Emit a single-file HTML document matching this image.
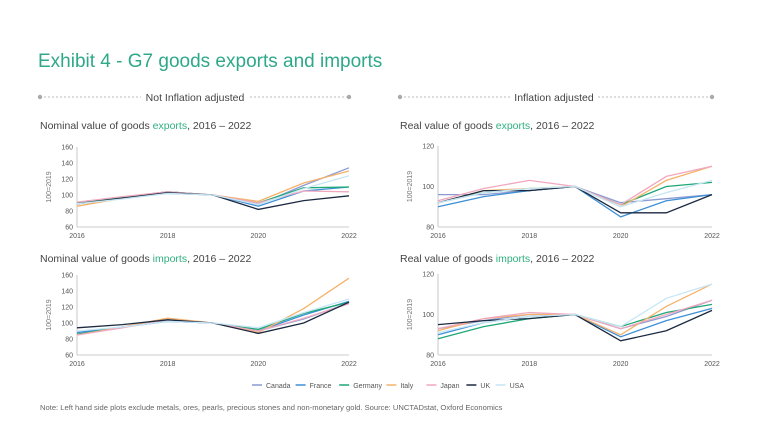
<!DOCTYPE html>
<html><head><meta charset="utf-8">
<style>
body{margin:0;width:768px;height:432px;background:#fff;overflow:hidden;font-family:"Liberation Sans",sans-serif}
svg{display:block}
</style></head><body>
<svg id="c" width="768" height="432">
<text x="38" y="67" font-size="19" fill="#2fa88a">Exhibit 4 - G7 goods exports and imports</text>
<g>
<line x1="40" y1="97" x2="141" y2="97" stroke="#bbb" stroke-dasharray="2,2"/>
<line x1="250" y1="97" x2="349" y2="97" stroke="#bbb" stroke-dasharray="2,2"/>
<circle cx="40" cy="97" r="2.2" fill="#aaa"/><circle cx="349" cy="97" r="2.2" fill="#aaa"/>
<text x="195" y="101" font-size="10.5" fill="#444" text-anchor="middle">Not Inflation adjusted</text></g>
<g>
<line x1="400" y1="97" x2="510" y2="97" stroke="#bbb" stroke-dasharray="2,2"/>
<line x1="598" y1="97" x2="712" y2="97" stroke="#bbb" stroke-dasharray="2,2"/>
<circle cx="400" cy="97" r="2.2" fill="#aaa"/><circle cx="712" cy="97" r="2.2" fill="#aaa"/>
<text x="554" y="101" font-size="10.5" fill="#444" text-anchor="middle">Inflation adjusted</text></g>
<text x="40" y="129" font-size="10.5" fill="#444">Nominal value of goods <tspan fill="#2fb080">exports</tspan>, 2016 – 2022</text>
<text x="400" y="129" font-size="10.5" fill="#444">Real value of goods <tspan fill="#2fb080">exports</tspan>, 2016 – 2022</text>
<text x="40" y="262" font-size="10.5" fill="#444">Nominal value of goods <tspan fill="#2fb080">imports</tspan>, 2016 – 2022</text>
<text x="400" y="262" font-size="10.5" fill="#444">Real value of goods <tspan fill="#2fb080">imports</tspan>, 2016 – 2022</text>
<text x="40" y="410" font-size="7.6" fill="#666">Note: Left hand side plots exclude metals, ores, pearls, precious stones and non-monetary gold. Source: UNCTADstat, Oxford Economics</text>
<g id="legend"></g>
</svg>
<script>
const years=[2016,2017,2018,2019,2020,2021,2022];
const countries=["Canada","France","Germany","Italy","Japan","UK","USA"];
const colors=["#8a9bd4","#3d8fd6","#1fa776","#f5b26b","#f0a8be","#1b2a41","#c6e6f5"];
const nomExp=[[90,97,104,100,88,112,134],[89,96,102,100,86,105,110],[90,97,104,100,90,109,110],[86,96,103,100,92,115,130],[91,98,104,100,90,105,104],[89,96,103,100,82,93,99],[89,95,102,100,88,108,124]];
const realExp=[[96,96,98,100,92,94,96],[90,95,98,100,85,93,96],[92,97,99,100,91,100,102],[92,98,99,100,90,103,110],[93,99,103,100,91,105,110],[92,98,98,100,87,87,96],[92,97,99,100,90,97,103]];
const nomImp=[[88,95,102,100,90,105,125],[88,95,102,100,90,110,127],[86,95,104,100,92,112,126],[85,95,106,100,88,118,156],[85,94,104,100,90,106,124],[94,98,104,100,87,100,126],[90,95,102,100,94,113,130]];
const realImp=[[93,97,100,100,93,99,107],[90,96,99,100,89,97,103],[88,94,98,100,94,101,105],[92,98,100,100,90,104,115],[93,98,101,100,93,100,107],[95,97,98,100,87,92,102],[91,96,99,100,94,108,115]];
const ticks160=[60,80,100,120,140,160];
const ticks120=[80,100,120];
const xTicks=[2016,2018,2020,2022];
const NS="http://www.w3.org/2000/svg";
const svg=document.getElementById('c');
function mk(t,a,p){const e=document.createElementNS(NS,t);for(const k in a)e.setAttribute(k,a[k]);(p||svg).appendChild(e);return e;}
function panel(name,x0,x1,yTop,yBot,min,max,ticks,data){
 const g=mk('g',{});
 
 
 const X=v=>x0+(v-2016)/(2022-2016)*(x1-x0);
 const Y=v=>yBot-(v-min)/(max-min)*(yBot-yTop);
 mk('line',{x1:x0,y1:yTop,x2:x0,y2:yBot,stroke:'#bbb','stroke-width':0.8},g);
 mk('line',{x1:x0,y1:yBot,x2:x1,y2:yBot,stroke:'#bbb','stroke-width':0.8},g);
 ticks.forEach(t=>{const tx=mk('text',{x:x0-4,y:Y(t)+2.5,'font-size':7,fill:'#555','text-anchor':'end'},g);tx.textContent=t;
  
  });
 xTicks.forEach(t=>{const tx=mk('text',{x:X(t),y:yBot+11,'font-size':7,fill:'#555','text-anchor':'middle'},g);tx.textContent=t;
  
  });
 const yt=mk('text',{x:0,y:0,'font-size':7,fill:'#777','text-anchor':'middle',transform:`translate(${x0-26},${(yTop+yBot)/2}) rotate(-90)`},g);yt.textContent='100=2019';
 
 
 data.forEach((s,i)=>{const pts=s.map((v,j)=>X(years[j]).toFixed(1)+','+Y(v).toFixed(1)).join(' ');
  const pl=mk('polyline',{points:pts,fill:'none',stroke:colors[i],'stroke-width':1.3},g);
  
  });
}
panel('chart-nominal-exports',77,349,147,227,60,160,ticks160,nomExp);
panel('chart-real-exports',438,712,146,227,80,120,ticks120,realExp);
panel('chart-nominal-imports',77,349,275,355,60,160,ticks160,nomImp);
panel('chart-real-imports',438,712,274,355,80,120,ticks120,realImp);
const lg=document.getElementById('legend');
let lx=252;
countries.forEach((c,i)=>{
 const e=mk('g',{},lg);
 
 
 mk('line',{x1:lx,y1:385,x2:lx+10,y2:385,stroke:colors[i],'stroke-width':1.5},e);
 const t=mk('text',{x:lx+14,y:388,'font-size':7,fill:'#555'},e);t.textContent=c;
 lx+=14+c.length*3.6+8;
});
</script>
</body></html>
